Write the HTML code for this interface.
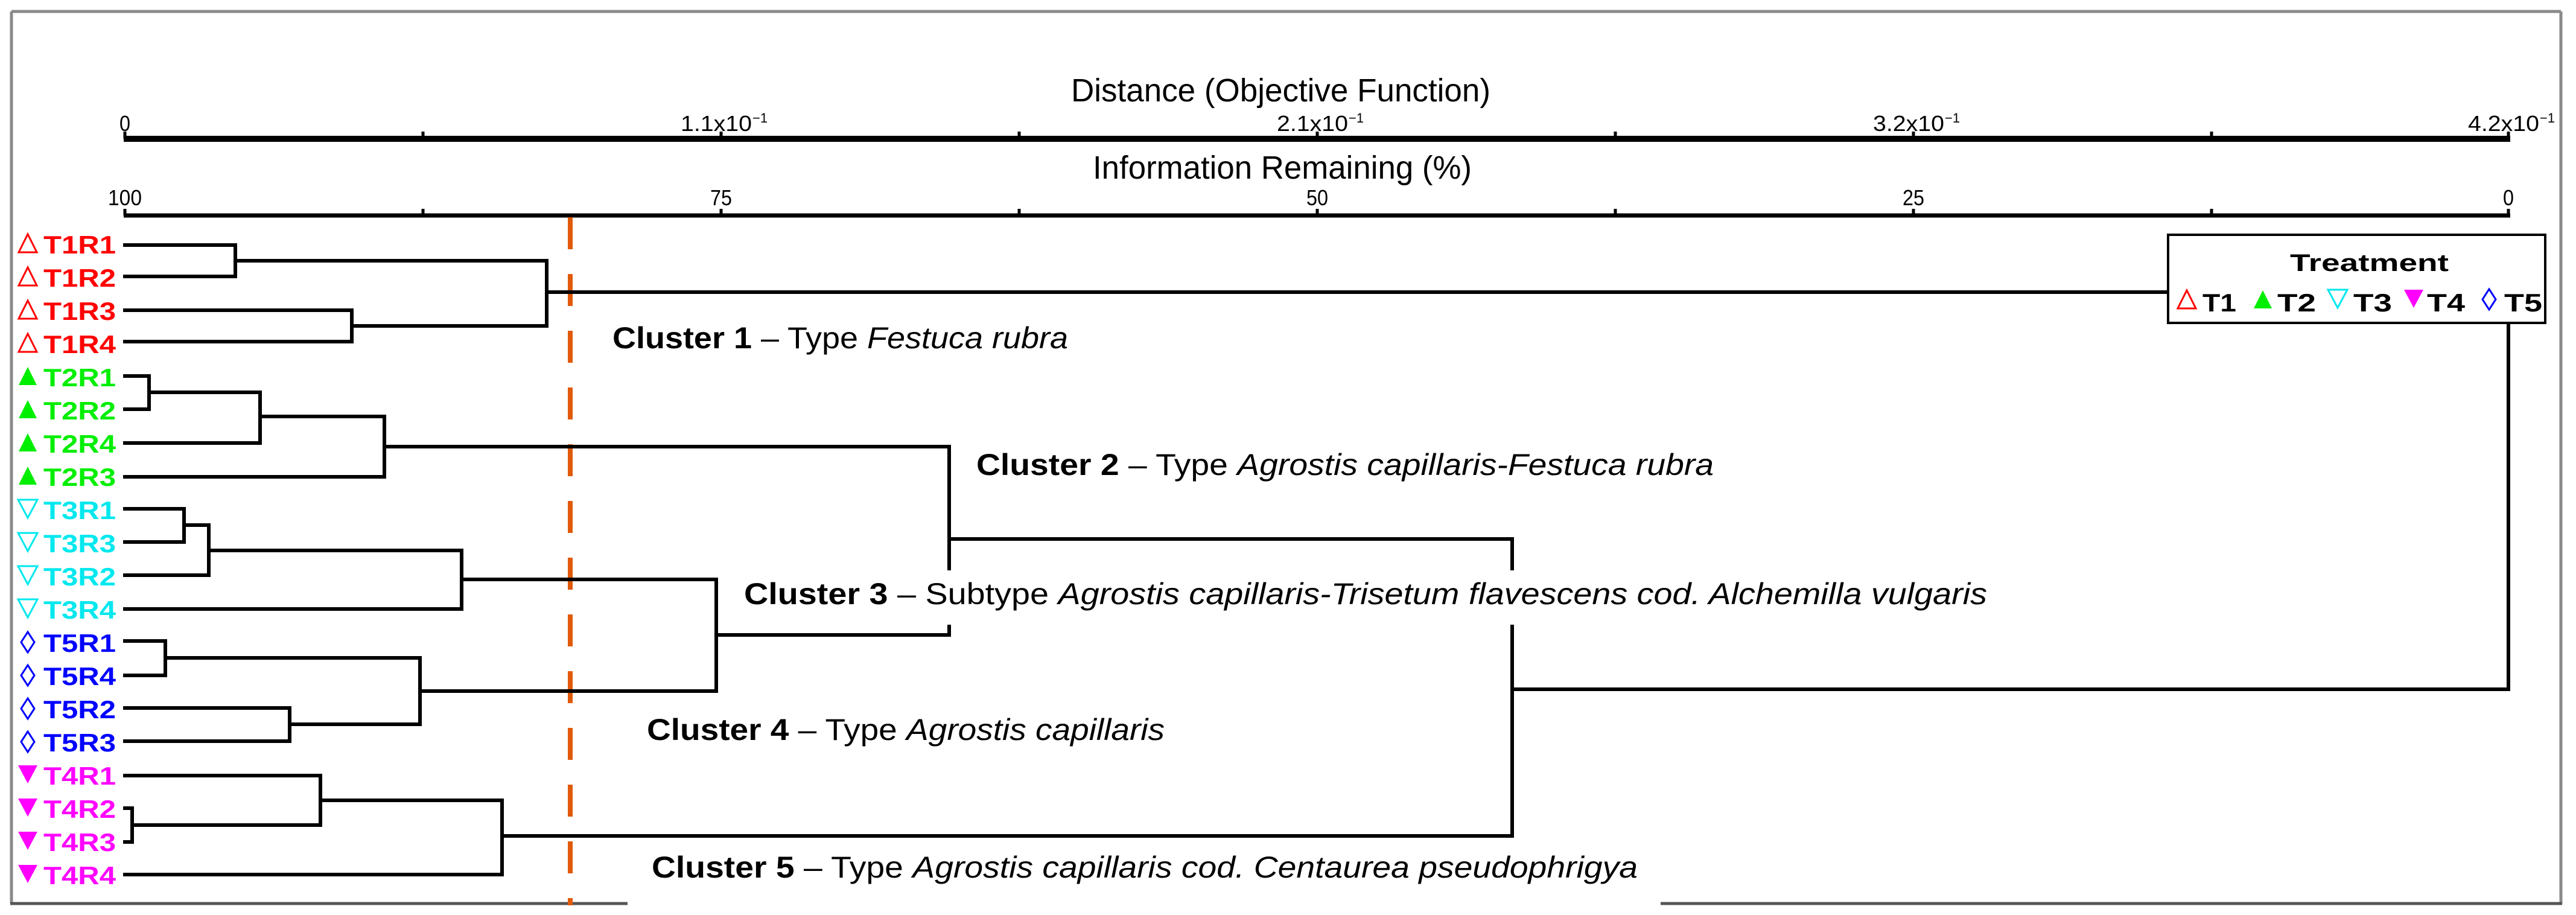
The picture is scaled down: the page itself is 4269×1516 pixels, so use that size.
<!DOCTYPE html>
<html><head><meta charset="utf-8"><style>
html,body{margin:0;padding:0;background:#fff;}
svg{display:block;}
.ax{font-family:"Liberation Sans",sans-serif;fill:#000;}
.lab{font-family:"Liberation Sans",sans-serif;font-weight:bold;}
.cl{font-family:"Liberation Sans",sans-serif;fill:#000;}
</style></head><body>
<svg width="4269" height="1516" viewBox="0 0 4269 1516" xmlns="http://www.w3.org/2000/svg">
<rect width="4269" height="1516" fill="#fff"/>
<!-- frame -->
<g stroke="#8a8a8a" stroke-width="5" fill="none">
<line x1="19" y1="19" x2="4244" y2="19"/>
<line x1="19" y1="19" x2="19" y2="1497"/>
<line x1="4244" y1="19" x2="4244" y2="1497"/>
<line x1="17" y1="1497" x2="1040" y2="1497" stroke="#555"/>
<line x1="2752" y1="1497" x2="4246" y2="1497" stroke="#555"/>
</g>
<!-- axes -->
<g stroke="#000" fill="none">
<line x1="205" y1="230" x2="4160" y2="230" stroke-width="10"/>
<line x1="205" y1="357" x2="4160" y2="357" stroke-width="7"/>
<path d="M207 230V218 M701 230V218 M1195 230V218 M1689 230V218 M2183 230V218 M2677 230V218 M3171 230V218 M3665 230V218 M4157 230V218" stroke-width="5"/>
<path d="M207 357V346 M701 357V346 M1195 357V346 M1689 357V346 M2183 357V346 M2677 357V346 M3171 357V346 M3665 357V346 M4157 357V346" stroke-width="5"/>
</g>
<text class="ax" x="1775" y="168" font-size="54" textLength="695" lengthAdjust="spacingAndGlyphs">Distance (Objective Function)</text>
<text class="ax" x="1811" y="296" font-size="54" textLength="628" lengthAdjust="spacingAndGlyphs">Information Remaining (%)</text>
<g class="ax" font-size="36">
<text x="198" y="217" textLength="18" lengthAdjust="spacingAndGlyphs">0</text>
<text x="1128" y="217" textLength="118" lengthAdjust="spacingAndGlyphs">1.1x10</text><text x="1247" y="203" font-size="22">−1</text>
<text x="2116" y="217" textLength="118" lengthAdjust="spacingAndGlyphs">2.1x10</text><text x="2235" y="203" font-size="22">−1</text>
<text x="3104" y="217" textLength="118" lengthAdjust="spacingAndGlyphs">3.2x10</text><text x="3223" y="203" font-size="22">−1</text>
<text x="4090" y="217" textLength="118" lengthAdjust="spacingAndGlyphs">4.2x10</text><text x="4209" y="203" font-size="22">−1</text>
<text x="207" y="340" text-anchor="middle" textLength="56" lengthAdjust="spacingAndGlyphs">100</text>
<text x="1195" y="340" text-anchor="middle" textLength="36" lengthAdjust="spacingAndGlyphs">75</text>
<text x="2183" y="340" text-anchor="middle" textLength="36" lengthAdjust="spacingAndGlyphs">50</text>
<text x="3171" y="340" text-anchor="middle" textLength="36" lengthAdjust="spacingAndGlyphs">25</text>
<text x="4157" y="340" text-anchor="middle" textLength="18" lengthAdjust="spacingAndGlyphs">0</text>
</g>
<!-- dashed cut -->
<line x1="945" y1="360" x2="945" y2="1500" stroke="#e05a0a" stroke-width="8" stroke-dasharray="53,41"/>
<!-- dendrogram -->
<g stroke="#000" stroke-width="6" fill="none" stroke-linecap="square">
<path d="M207 406H390V458H207 M207 514H583V566H207 M390 432H906V540H583 M906 484H3592"/>
<path d="M207 623H247V678H207 M247 650H431V734H207 M431 690H637V790H207 M637 740H1573V1052"/>
<path d="M207 843H305V898H207 M305 870H346V953H207 M346 912H765V1009H207"/>
<path d="M207 1062H274V1119H207 M207 1173H480V1228H207 M274 1090H696V1200H480"/>
<path d="M765 960H1187V1145H696 M1187 1052H1573"/>
<path d="M207 1339H219V1395H207 M219 1367H531V1285H207 M531 1326H832V1449H207 M832 1385H2506V893H1573"/>
<path d="M2506 1142H4157V536"/>
</g>
<!-- cluster labels -->
<rect x="1225" y="945" width="2075" height="90" fill="#fff"/>
<rect x="1075" y="1405" width="1660" height="80" fill="#fff"/>
<g class="cl" font-size="50">
<text x="1015" y="577" textLength="755" lengthAdjust="spacingAndGlyphs"><tspan font-weight="bold">Cluster 1</tspan> – Type <tspan font-style="italic">Festuca rubra</tspan></text>
<text x="1618" y="787" textLength="1222" lengthAdjust="spacingAndGlyphs"><tspan font-weight="bold">Cluster 2</tspan> – Type <tspan font-style="italic">Agrostis capillaris-Festuca rubra</tspan></text>
<text x="1233" y="1001" textLength="2060" lengthAdjust="spacingAndGlyphs"><tspan font-weight="bold">Cluster 3</tspan> – Subtype <tspan font-style="italic">Agrostis capillaris-Trisetum flavescens cod. Alchemilla vulgaris</tspan></text>
<text x="1072" y="1226" textLength="858" lengthAdjust="spacingAndGlyphs"><tspan font-weight="bold">Cluster 4</tspan> – Type <tspan font-style="italic">Agrostis capillaris</tspan></text>
<text x="1080" y="1454" textLength="1634" lengthAdjust="spacingAndGlyphs"><tspan font-weight="bold">Cluster 5</tspan> – Type <tspan font-style="italic">Agrostis capillaris cod. Centaurea pseudophrigya</tspan></text>
</g>
<!-- leaf labels -->
<defs>
<path id="up" d="M-15 14L0 -16L15 14Z"/>
<path id="dn" d="M-16 -16L16 -16L0 14Z"/>
<path id="dm" d="M0 -17L11 0L0 17L-11 0Z"/>
</defs>
<g class="lab" font-size="42">
<g fill="#ff0000">
<use href="#up" x="46" y="404" fill="none" stroke="#ff0000" stroke-width="3"/><text x="72" y="420" textLength="120" lengthAdjust="spacingAndGlyphs">T1R1</text>
<use href="#up" x="46" y="459" fill="none" stroke="#ff0000" stroke-width="3"/><text x="72" y="475" textLength="120" lengthAdjust="spacingAndGlyphs">T1R2</text>
<use href="#up" x="46" y="514" fill="none" stroke="#ff0000" stroke-width="3"/><text x="72" y="530" textLength="120" lengthAdjust="spacingAndGlyphs">T1R3</text>
<use href="#up" x="46" y="569" fill="none" stroke="#ff0000" stroke-width="3"/><text x="72" y="585" textLength="120" lengthAdjust="spacingAndGlyphs">T1R4</text>
</g>
<g fill="#00ee00">
<use href="#up" x="46" y="624"/><text x="72" y="640" textLength="120" lengthAdjust="spacingAndGlyphs">T2R1</text>
<use href="#up" x="46" y="679"/><text x="72" y="695" textLength="120" lengthAdjust="spacingAndGlyphs">T2R2</text>
<use href="#up" x="46" y="734"/><text x="72" y="750" textLength="120" lengthAdjust="spacingAndGlyphs">T2R4</text>
<use href="#up" x="46" y="789"/><text x="72" y="805" textLength="120" lengthAdjust="spacingAndGlyphs">T2R3</text>
</g>
<g fill="#00e8ee">
<use href="#dn" x="46" y="844" fill="none" stroke="#00e8ee" stroke-width="3"/><text x="72" y="860" textLength="120" lengthAdjust="spacingAndGlyphs">T3R1</text>
<use href="#dn" x="46" y="899" fill="none" stroke="#00e8ee" stroke-width="3"/><text x="72" y="915" textLength="120" lengthAdjust="spacingAndGlyphs">T3R3</text>
<use href="#dn" x="46" y="954" fill="none" stroke="#00e8ee" stroke-width="3"/><text x="72" y="970" textLength="120" lengthAdjust="spacingAndGlyphs">T3R2</text>
<use href="#dn" x="46" y="1009" fill="none" stroke="#00e8ee" stroke-width="3"/><text x="72" y="1025" textLength="120" lengthAdjust="spacingAndGlyphs">T3R4</text>
</g>
<g fill="#0000ff">
<use href="#dm" x="46" y="1064" fill="none" stroke="#0000ff" stroke-width="3"/><text x="72" y="1080" textLength="120" lengthAdjust="spacingAndGlyphs">T5R1</text>
<use href="#dm" x="46" y="1119" fill="none" stroke="#0000ff" stroke-width="3"/><text x="72" y="1135" textLength="120" lengthAdjust="spacingAndGlyphs">T5R4</text>
<use href="#dm" x="46" y="1174" fill="none" stroke="#0000ff" stroke-width="3"/><text x="72" y="1190" textLength="120" lengthAdjust="spacingAndGlyphs">T5R2</text>
<use href="#dm" x="46" y="1229" fill="none" stroke="#0000ff" stroke-width="3"/><text x="72" y="1245" textLength="120" lengthAdjust="spacingAndGlyphs">T5R3</text>
</g>
<g fill="#ff00ff">
<use href="#dn" x="46" y="1284"/><text x="72" y="1300" textLength="120" lengthAdjust="spacingAndGlyphs">T4R1</text>
<use href="#dn" x="46" y="1339"/><text x="72" y="1355" textLength="120" lengthAdjust="spacingAndGlyphs">T4R2</text>
<use href="#dn" x="46" y="1394"/><text x="72" y="1410" textLength="120" lengthAdjust="spacingAndGlyphs">T4R3</text>
<use href="#dn" x="46" y="1449"/><text x="72" y="1465" textLength="120" lengthAdjust="spacingAndGlyphs">T4R4</text>
</g>
</g>
<!-- legend -->
<rect x="3593" y="389" width="625" height="146" fill="#fff" stroke="#000" stroke-width="4"/>
<g class="lab" fill="#000" font-size="42">
<text x="3795" y="449" font-size="40" textLength="263" lengthAdjust="spacingAndGlyphs">Treatment</text>
<use href="#up" x="3624" y="497" fill="none" stroke="#ff0000" stroke-width="3"/>
<text x="3650" y="516" textLength="56" lengthAdjust="spacingAndGlyphs">T1</text>
<use href="#up" x="3750" y="497" fill="#00ee00"/>
<text x="3774" y="516" textLength="64" lengthAdjust="spacingAndGlyphs">T2</text>
<use href="#dn" x="3874" y="496" fill="none" stroke="#00e8ee" stroke-width="3"/>
<text x="3900" y="516" textLength="64" lengthAdjust="spacingAndGlyphs">T3</text>
<use href="#dn" x="4000" y="496" fill="#ff00ff"/>
<text x="4022" y="516" textLength="63" lengthAdjust="spacingAndGlyphs">T4</text>
<use href="#dm" x="4125" y="496" fill="none" stroke="#0000ff" stroke-width="3"/>
<text x="4150" y="516" textLength="63" lengthAdjust="spacingAndGlyphs">T5</text>
</g>
</svg>
</body></html>
